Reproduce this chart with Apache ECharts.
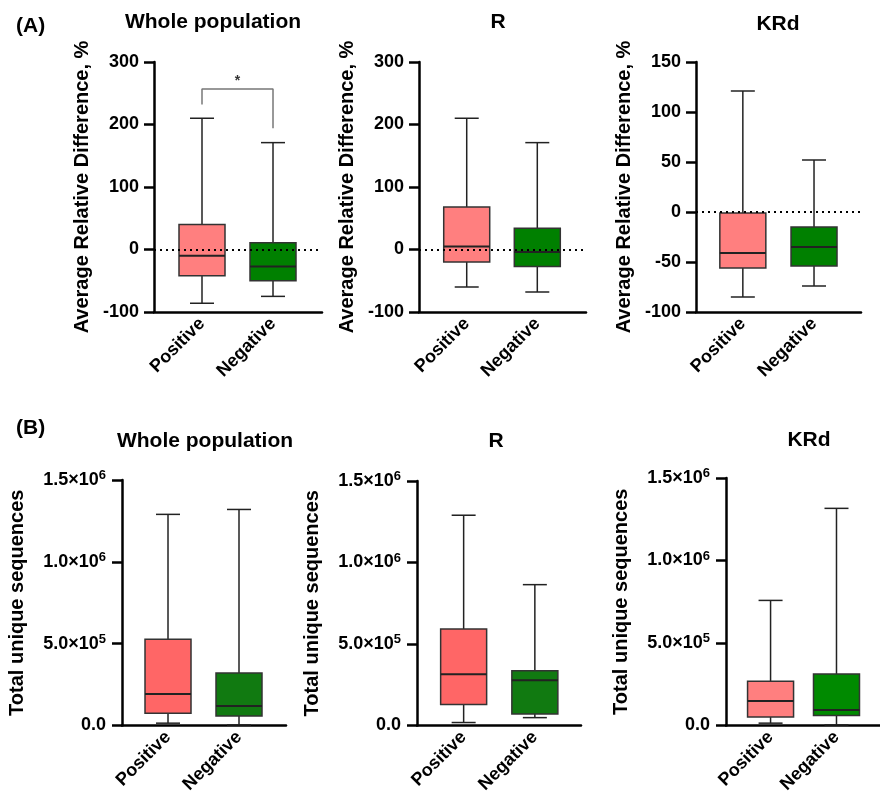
<!DOCTYPE html>
<html>
<head>
<meta charset="utf-8">
<script src="https://cdn.jsdelivr.net/npm/echarts@6/dist/echarts.min.js"></script>
<style>html,body{margin:0;padding:0;background:#fff}#c{width:880px;height:796px}</style>
</head>
<body>
<div id="c"></div>
<script>
// ---------- data ----------
const CATEGORIES = ['Positive', 'Negative'];
// each box: [min, Q1, median, Q3, max]
const A_WHOLE_POS = [-86, -42, -10, 40, 210];
const A_WHOLE_NEG = [-75, -50, -27, 11, 171];
const A_R_POS = [-60, -20, 5, 68, 210];
const A_R_NEG = [-68, -27, -4, 34, 171];
const A_KRD_POS = [-85, -56, -41, -1, 121];
const A_KRD_NEG = [-74, -54, -35, -15, 52];
const B_WHOLE_POS = [14000, 74000, 193000, 527000, 1290000];
const B_WHOLE_NEG = [3000, 58000, 119000, 320000, 1320000];
const B_R_POS = [18000, 129000, 314000, 592000, 1290000];
const B_R_NEG = [48000, 70000, 278000, 336000, 864000];
const B_KRD_POS = [14000, 52000, 148000, 268000, 758000];
const B_KRD_NEG = [3000, 60000, 94000, 312000, 1316000];
const SIG_BRACKET = [[1, 232], [1, 257], [2, 257], [2, 194]];
const SIG_STAR = [[1.5, 270]];
const A_TICKS_300 = { min: -100, max: 300, interval: 100 };
const A_TICKS_150 = { min: -100, max: 150, interval: 50 };
const B_TICKS = { min: 0, max: 1500000, interval: 500000 };
// mantissa / exponent of the bottom-row tick labels
const B_TICK_MANT = ['0.0', '5.0×10', '1.0×10', '1.5×10'];
const B_TICK_EXP = ['', '5', '6', '6'];
const PANEL_TITLES = ['Whole population', 'R', 'KRd', 'Whole population', 'R', 'KRd'];
const Y_NAME_A = 'Average Relative Difference, %';
const Y_NAME_B = 'Total unique sequences';

// ---------- layout / style ----------
const FONT = 'Liberation Sans, Arial, Helvetica, sans-serif';
const COL_A = ['#ff7f7f', '#008000'];
const COL_B12 = ['#ff6666', '#117a11'];
const COL_B3 = ['#ff7f7f', '#008a00'];
const panels = [
  { grid: { left: 154, top: 62, width: 168, height: 250 }, x: [0.324, 2.69], y: A_TICKS_300, boxes: [A_WHOLE_POS, A_WHOLE_NEG], col: COL_A, kind: 'A', zero: true },
  { grid: { left: 419, top: 62, width: 167, height: 250 }, x: [0.324, 2.69], y: A_TICKS_300, boxes: [A_R_POS, A_R_NEG], col: COL_A, kind: 'A', zero: true },
  { grid: { left: 696, top: 62, width: 165, height: 250 }, x: [0.342, 2.66], y: A_TICKS_150, boxes: [A_KRD_POS, A_KRD_NEG], col: COL_A, kind: 'A', zero: true },
  { grid: { left: 122, top: 480, width: 164, height: 248 }, x: [0.352, 2.662], y: B_TICKS, boxes: [B_WHOLE_POS, B_WHOLE_NEG], col: COL_B12, kind: 'B' },
  { grid: { left: 417, top: 481, width: 164, height: 247 }, x: [0.345, 2.648], y: B_TICKS, boxes: [B_R_POS, B_R_NEG], col: COL_B12, kind: 'B' },
  { grid: { left: 726, top: 478, width: 166, height: 250 }, x: [0.324, 2.66], y: B_TICKS, boxes: [B_KRD_POS, B_KRD_NEG], col: COL_B3, kind: 'B' }
];
const BOX_HALF = 23, CAP_HALF = 12;

function renderBox(params, api) {
  const x = api.value(0);
  const mn = api.coord([x, api.value(1)]);
  const q1 = api.coord([x, api.value(2)]);
  const md = api.coord([x, api.value(3)]);
  const q3 = api.coord([x, api.value(4)]);
  const mx = api.coord([x, api.value(5)]);
  const cx = mn[0];
  const ls = { stroke: '#222', lineWidth: 1.5 };
  return {
    type: 'group',
    children: [
      { type: 'line', shape: { x1: cx, y1: mx[1], x2: cx, y2: q3[1] }, style: ls },
      { type: 'line', shape: { x1: cx, y1: q1[1], x2: cx, y2: mn[1] }, style: ls },
      { type: 'line', shape: { x1: cx - CAP_HALF, y1: mx[1], x2: cx + CAP_HALF, y2: mx[1] }, style: ls },
      { type: 'line', shape: { x1: cx - CAP_HALF, y1: mn[1], x2: cx + CAP_HALF, y2: mn[1] }, style: ls },
      { type: 'rect', shape: { x: cx - BOX_HALF, y: q3[1], width: 2 * BOX_HALF, height: q1[1] - q3[1] },
        style: { fill: api.visual('color'), stroke: '#333', lineWidth: 1.5 } },
      { type: 'line', shape: { x1: cx - BOX_HALF, y1: md[1], x2: cx + BOX_HALF, y2: md[1] }, style: { stroke: '#222', lineWidth: 2 } }
    ]
  };
}

const grids = [], xAxes = [], yAxes = [], series = [];
panels.forEach(function (p, i) {
  grids.push(p.grid);
  xAxes.push({
    type: 'value', gridIndex: i, min: p.x[0], max: p.x[1],
    axisLine: { show: true, onZero: false, lineStyle: { color: '#000', width: 2.5 } },
    axisTick: { show: false },
    splitLine: { show: false },
    axisLabel: {
      customValues: [1, 2], rotate: 45, margin: 9,
      formatter: function (v) { return CATEGORIES[Math.round(v) - 1] || ''; },
      color: '#000', fontFamily: FONT, fontWeight: 'bold', fontSize: 18
    }
  });
  const isB = p.kind === 'B';
  yAxes.push({
    type: 'value', gridIndex: i, min: p.y.min, max: p.y.max, interval: p.y.interval,
    name: isB ? Y_NAME_B : Y_NAME_A, nameLocation: 'middle', nameGap: isB ? 95 : 62,
    nameTextStyle: { color: '#000', fontFamily: FONT, fontWeight: 'bold', fontSize: 20 },
    axisLine: { show: true, onZero: false, lineStyle: { color: '#000', width: 2.5 } },
    axisTick: { show: true, length: 10, lineStyle: { color: '#000', width: 2.5 } },
    splitLine: { show: false },
    axisLabel: isB ? {
      margin: 16, color: '#000', fontFamily: FONT, fontWeight: 'bold', fontSize: 18,
      formatter: function (v) {
        const k = Math.round(v / B_TICKS.interval);
        return '{n|' + B_TICK_MANT[k] + '}' + (B_TICK_EXP[k] ? '{s|' + B_TICK_EXP[k] + '}' : '');
      },
      rich: {
        n: { fontFamily: FONT, fontWeight: 'bold', fontSize: 18, color: '#000', lineHeight: 22 },
        s: { fontFamily: FONT, fontWeight: 'bold', fontSize: 13, color: '#000', lineHeight: 22, verticalAlign: 'top', padding: [0, 0, 8, 0] }
      }
    } : {
      margin: 15, color: '#000', fontFamily: FONT, fontWeight: 'bold', fontSize: 18
    }
  });
  if (p.zero) {
    series.push({
      type: 'line', xAxisIndex: i, yAxisIndex: i, data: [], z: 1,
      markLine: {
        silent: true, symbol: 'none', label: { show: false },
        lineStyle: { color: '#000', width: 2, type: [2, 4] },
        data: [{ yAxis: 0 }]
      }
    });
  }
  series.push({
    type: 'custom', xAxisIndex: i, yAxisIndex: i, z: 3,
    renderItem: renderBox,
    encode: { x: 0, y: [1, 2, 3, 4, 5] },
    data: p.boxes.map(function (b, k) {
      return { value: [k + 1].concat(b), itemStyle: { color: p.col[k] } };
    })
  });
});

series.push({
  type: 'line', xAxisIndex: 0, yAxisIndex: 0, data: SIG_BRACKET, showSymbol: false, z: 2,
  lineStyle: { color: '#777', width: 1.5 }
});
series.push({
  type: 'scatter', xAxisIndex: 0, yAxisIndex: 0, data: SIG_STAR, symbolSize: 1, itemStyle: { color: 'rgba(0,0,0,0)' },
  label: { show: true, position: 'inside', formatter: '*', color: '#000', fontFamily: FONT, fontWeight: 'bold', fontSize: 14 }
});

function txt(text, x, y, align) {
  return { type: 'text', x: x, y: y, style: { text: text, textAlign: align || 'center', textVerticalAlign: 'top',
    fontFamily: FONT, fontWeight: 'bold', fontSize: 21, fill: '#000' } };
}
const graphics = [
  txt('(A)', 16, 16, 'left'), txt(PANEL_TITLES[0], 213, 12), txt(PANEL_TITLES[1], 498, 12), txt(PANEL_TITLES[2], 778, 14),
  txt('(B)', 16, 418, 'left'), txt(PANEL_TITLES[3], 205, 431), txt(PANEL_TITLES[4], 496, 431), txt(PANEL_TITLES[5], 809, 430)
];

const chart = echarts.init(document.getElementById('c'), null, { renderer: 'canvas' });
chart.setOption({
  animation: false,
  backgroundColor: '#fff',
  grid: grids, xAxis: xAxes, yAxis: yAxes, series: series,
  graphic: graphics
});
</script>
</body>
</html>
